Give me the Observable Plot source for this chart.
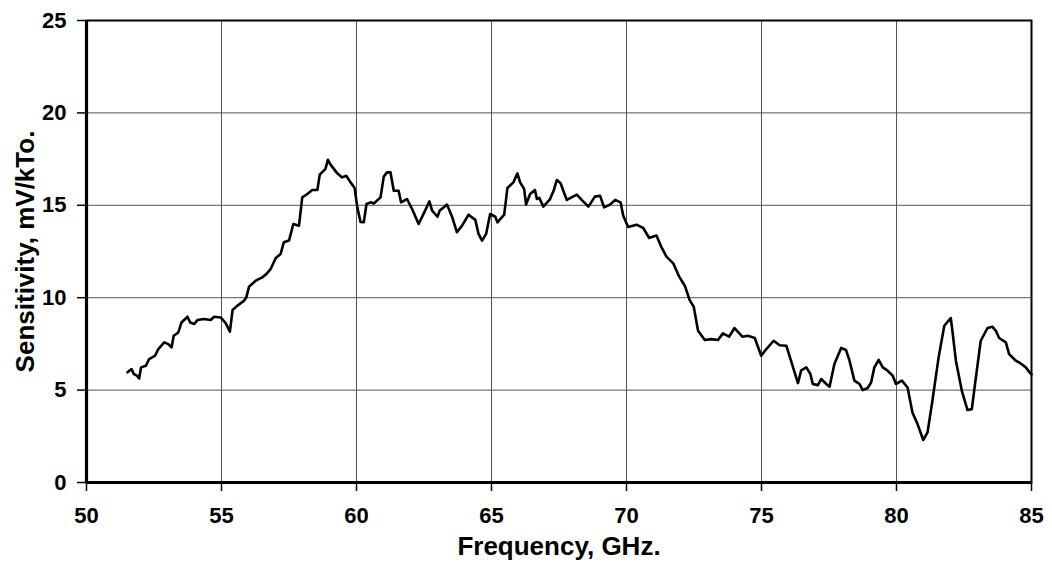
<!DOCTYPE html>
<html>
<head>
<meta charset="utf-8">
<script src="https://cdn.jsdelivr.net/npm/d3@7"></script>
<script src="https://cdn.jsdelivr.net/npm/@observablehq/plot@0.6"></script>
<style>
  html, body { margin: 0; padding: 0; background: #fff; }
  #chart svg { display: block; }
</style>
</head>
<body>
<div id="chart"></div>
<script>
const freq = [51.52,51.67,51.75,51.87,51.95,52.02,52.2,52.32,52.54,52.66,52.88,53.03,53.15,53.23,53.40,53.52,53.74,53.84,53.99,54.11,54.36,54.60,54.73,54.97,55.16,55.31,55.41,55.59,55.84,55.92,56.02,56.27,56.51,56.64,56.82,57.01,57.19,57.31,57.50,57.66,57.87,57.99,58.18,58.36,58.55,58.64,58.85,58.94,59.04,59.16,59.29,59.47,59.62,59.78,59.93,60.03,60.15,60.27,60.37,60.52,60.64,60.89,61.01,61.13,61.26,61.38,61.56,61.65,61.87,62.06,62.30,62.51,62.70,62.80,63.0,63.08,63.35,63.54,63.72,63.91,64.15,64.40,64.52,64.65,64.80,64.95,65.14,65.22,65.47,65.59,65.81,65.96,66.06,66.21,66.28,66.43,66.61,66.68,66.77,66.92,67.17,67.31,67.42,67.56,67.66,67.79,68.16,68.34,68.59,68.83,69.02,69.17,69.39,69.58,69.78,69.88,70.06,70.37,70.62,70.84,71.11,71.30,71.48,71.73,71.95,72.16,72.34,72.49,72.65,72.90,73.15,73.39,73.57,73.80,74.0,74.29,74.50,74.75,74.99,75.18,75.45,75.67,75.92,76.10,76.35,76.47,76.66,76.81,76.90,77.09,77.21,77.40,77.52,77.70,77.95,78.13,78.26,78.44,78.63,78.75,78.93,79.06,79.18,79.34,79.49,79.67,79.86,79.98,80.20,80.41,80.59,80.78,80.99,81.15,81.33,81.56,81.77,82.01,82.07,82.20,82.42,82.63,82.79,82.94,83.12,83.37,83.55,83.68,83.80,84.05,84.17,84.42,84.60,84.79,84.93,85.0];
const sensitivity = [5.96,6.14,5.87,5.78,5.63,6.23,6.32,6.68,6.86,7.22,7.58,7.49,7.31,7.94,8.12,8.66,8.97,8.66,8.58,8.79,8.85,8.79,8.97,8.93,8.61,8.16,9.33,9.57,9.84,10.02,10.6,10.92,11.1,11.25,11.55,12.15,12.37,13.0,13.09,13.99,13.9,15.43,15.61,15.83,15.83,16.66,16.97,17.46,17.2,16.97,16.73,16.51,16.6,16.24,15.94,14.89,14.1,14.08,15.07,15.16,15.1,15.43,16.55,16.78,16.78,15.79,15.79,15.16,15.34,14.8,13.99,14.62,15.21,14.71,14.38,14.71,15.04,14.38,13.54,13.9,14.49,14.21,13.45,13.09,13.45,14.53,14.38,14.08,14.49,15.94,16.24,16.73,16.24,15.88,15.04,15.61,15.83,15.34,15.4,14.93,15.34,15.83,16.37,16.19,15.79,15.29,15.58,15.29,14.93,15.47,15.52,14.89,15.04,15.29,15.16,14.44,13.82,13.95,13.77,13.23,13.36,12.72,12.22,11.86,11.14,10.65,9.87,9.51,8.21,7.71,7.76,7.71,8.07,7.89,8.36,7.89,7.94,7.82,6.86,7.22,7.67,7.43,7.40,6.55,5.38,6.07,6.23,5.87,5.33,5.27,5.6,5.33,5.18,6.41,7.28,7.17,6.59,5.51,5.33,5.0,5.11,5.41,6.23,6.63,6.23,6.05,5.78,5.33,5.51,5.14,3.79,3.16,2.30,2.71,4.42,6.77,8.48,8.90,8.21,6.59,4.96,3.92,3.97,5.68,7.67,8.36,8.43,8.21,7.82,7.58,6.95,6.59,6.44,6.23,5.96,5.85];
const xTicks = [50,55,60,65,70,75,80,85];
const yTicks = [0,5,10,15,20,25];
const xLabel = "Frequency, GHz.";
const yLabel = "Sensitivity, mV/kTo.";

const data = freq.map((f, i) => ({f, s: sensitivity[i]}));

const chart = Plot.plot({
  width: 1052,
  height: 565,
  marginLeft: 86,
  marginRight: 21,
  marginTop: 20,
  marginBottom: 83,
  style: {fontFamily: "'Liberation Sans', Arial, sans-serif", fontSize: "22px", fontWeight: "bold", color: "#000", background: "#fff"},
  x: {domain: [50, 85], ticks: xTicks},
  y: {domain: [0, 25], ticks: yTicks},
  marks: [
    Plot.gridX(xTicks, {stroke: "#555", strokeOpacity: 1, strokeWidth: 1}),
    Plot.gridY(yTicks, {stroke: "#555", strokeOpacity: 1, strokeWidth: 1}),
    Plot.axisX({ticks: xTicks, tickSize: 9, tickPadding: 16, label: null, stroke: "#000", strokeWidth: 1.5, fontSize: 22, fontWeight: "bold"}),
    Plot.axisY({ticks: yTicks, tickSize: 9, tickPadding: 11, label: null, stroke: "#000", strokeWidth: 1.5, fontSize: 22, fontWeight: "bold"}),
    Plot.frame({stroke: "#000", strokeWidth: 2}),
    Plot.ruleX([50], {stroke: "#000", strokeWidth: 3.2}),
    Plot.ruleY([0], {stroke: "#000", strokeWidth: 3.2}),
    Plot.line(data, {x: "f", y: "s", stroke: "#000", strokeWidth: 2.6, curve: "linear"}),
    Plot.text([xLabel], {frameAnchor: "bottom", textAnchor: "middle", dy: 72, fontSize: 26, fontWeight: "bold", fill: "#000"}),
    Plot.text([yLabel], {frameAnchor: "left", textAnchor: "middle", dx: -61, rotate: -90, fontSize: 26, fontWeight: "bold", fill: "#000"})
  ]
});
document.getElementById("chart").appendChild(chart);
</script>
</body>
</html>
